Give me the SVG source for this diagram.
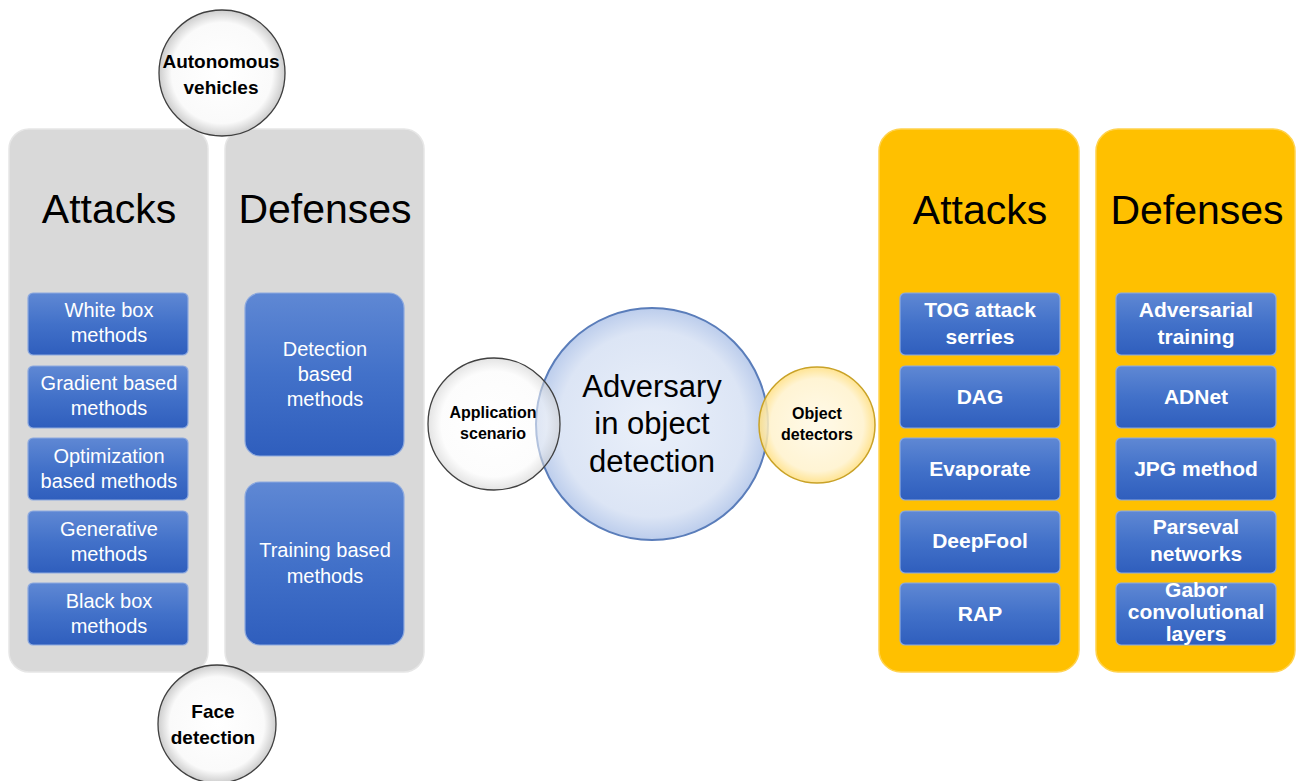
<svg xmlns="http://www.w3.org/2000/svg" width="1296" height="781" viewBox="0 0 1296 781">
<defs>
<linearGradient id="gBox" x1="0" y1="0" x2="0" y2="1">
<stop offset="0" stop-color="#5F88D4"/>
<stop offset="0.5" stop-color="#4271C9"/>
<stop offset="1" stop-color="#2F5EBD"/>
</linearGradient>
<radialGradient id="gWhite" cx="0.5" cy="0.5" r="0.5">
<stop offset="0" stop-color="#FFFFFF"/>
<stop offset="0.8" stop-color="#FAFAFA"/>
<stop offset="1" stop-color="#CDCDCD"/>
</radialGradient>
<radialGradient id="gBlue" cx="0.5" cy="0.5" r="0.5">
<stop offset="0" stop-color="#EAF0FA"/>
<stop offset="0.8" stop-color="#DCE5F5"/>
<stop offset="1" stop-color="#BCCDEC"/>
</radialGradient>
<radialGradient id="gYellow" cx="0.5" cy="0.5" r="0.5">
<stop offset="0" stop-color="#FFF9E6"/>
<stop offset="0.8" stop-color="#FFF2CC"/>
<stop offset="1" stop-color="#FFDF80"/>
</radialGradient>
<style>
.gray{fill:#D9D9D9;stroke:#E6E6E6;stroke-width:1.5}
.gold{fill:#FFC000;stroke:#FFD24D;stroke-width:1.5}
.box{fill:url(#gBox);stroke:#8EAADF;stroke-width:1.2}
.title{font-family:"Liberation Sans",Arial,sans-serif;font-size:41px;fill:#000;text-anchor:middle}
.bt{font-family:"Liberation Sans",Arial,sans-serif;font-size:20px;fill:#FFFFFF;text-anchor:middle}
.bb{font-family:"Liberation Sans",Arial,sans-serif;font-size:21px;font-weight:bold;fill:#FFFFFF;text-anchor:middle}
.ct{font-family:"Liberation Sans",Arial,sans-serif;font-weight:bold;fill:#000;text-anchor:middle}
</style>
</defs>
<rect width="1296" height="781" fill="#FFFFFF"/>

<g id="connectors"/>

<g id="left-attacks-panel">
<rect class="gray" x="9" y="129" width="199" height="543" rx="20"/>
<text class="title" x="109" y="223">Attacks</text>
</g>
<g id="left-defenses-panel">
<rect class="gray" x="225" y="129" width="199" height="543" rx="20"/>
<text class="title" x="325" y="223">Defenses</text>
</g>

<g id="white-box">
<rect class="box" x="28" y="293" width="160" height="62" rx="5"/>
<text class="bt" x="109" y="317">White box</text>
<text class="bt" x="109" y="342">methods</text>
</g>
<g id="gradient-based">
<rect class="box" x="28" y="366" width="160" height="62" rx="5"/>
<text class="bt" x="109" y="390">Gradient based</text>
<text class="bt" x="109" y="415">methods</text>
</g>
<g id="optimization-based">
<rect class="box" x="28" y="438" width="160" height="62" rx="5"/>
<text class="bt" x="109" y="463">Optimization</text>
<text class="bt" x="109" y="488">based methods</text>
</g>
<g id="generative">
<rect class="box" x="28" y="511" width="160" height="62" rx="5"/>
<text class="bt" x="109" y="536">Generative</text>
<text class="bt" x="109" y="561">methods</text>
</g>
<g id="black-box">
<rect class="box" x="28" y="583" width="160" height="62" rx="5"/>
<text class="bt" x="109" y="608">Black box</text>
<text class="bt" x="109" y="633">methods</text>
</g>

<g id="detection-based">
<rect class="box" x="245" y="293" width="159" height="163" rx="15"/>
<text class="bt" x="325" y="356">Detection</text>
<text class="bt" x="325" y="381">based</text>
<text class="bt" x="325" y="406">methods</text>
</g>
<g id="training-based">
<rect class="box" x="245" y="482" width="159" height="163" rx="15"/>
<text class="bt" x="325" y="557">Training based</text>
<text class="bt" x="325" y="583">methods</text>
</g>

<g id="autonomous-vehicles">
<circle cx="222" cy="73" r="63" fill="url(#gWhite)" stroke="#3F3F3F" stroke-width="1.3"/>
<text class="ct" x="221" y="68" font-size="19">Autonomous</text>
<text class="ct" x="221" y="94" font-size="19">vehicles</text>
</g>
<g id="face-detection">
<circle cx="217" cy="724" r="59" fill="url(#gWhite)" stroke="#3F3F3F" stroke-width="1.3"/>
<text class="ct" x="213" y="718" font-size="19">Face</text>
<text class="ct" x="213" y="744" font-size="19">detection</text>
</g>

<g id="adversary">
<circle cx="652" cy="424" r="116" fill="url(#gBlue)" stroke="#5A7DBA" stroke-width="2"/>
<text x="652" y="397" font-family="Liberation Sans, Arial, sans-serif" font-size="31" text-anchor="middle" fill="#000">Adversary</text>
<text x="652" y="434" font-family="Liberation Sans, Arial, sans-serif" font-size="31" text-anchor="middle" fill="#000">in object</text>
<text x="652" y="472" font-family="Liberation Sans, Arial, sans-serif" font-size="31" text-anchor="middle" fill="#000">detection</text>
</g>
<g id="application-scenario">
<circle cx="494" cy="424" r="66" fill="url(#gWhite)" fill-opacity="0.55" stroke="#404040" stroke-width="1.3"/>
<text class="ct" x="493" y="418" font-size="16">Application</text>
<text class="ct" x="493" y="439" font-size="16">scenario</text>
</g>
<g id="object-detectors">
<circle cx="817" cy="425" r="58" fill="url(#gYellow)" fill-opacity="0.85" stroke="#C9A227" stroke-width="1.5"/>
<text class="ct" x="817" y="419" font-size="16">Object</text>
<text class="ct" x="817" y="440" font-size="16">detectors</text>
</g>

<g id="right-attacks-panel">
<rect class="gold" x="879" y="129" width="200" height="543" rx="22"/>
<text class="title" x="980" y="224">Attacks</text>
</g>
<g id="right-defenses-panel">
<rect class="gold" x="1096" y="129" width="199" height="543" rx="22"/>
<text class="title" x="1197" y="224">Defenses</text>
</g>

<g id="tog">
<rect class="box" x="900" y="293" width="160" height="62" rx="5"/>
<text class="bb" x="980" y="317">TOG attack</text>
<text class="bb" x="980" y="344">serries</text>
</g>
<g id="dag">
<rect class="box" x="900" y="366" width="160" height="62" rx="5"/>
<text class="bb" x="980" y="404">DAG</text>
</g>
<g id="evaporate">
<rect class="box" x="900" y="438" width="160" height="62" rx="5"/>
<text class="bb" x="980" y="476">Evaporate</text>
</g>
<g id="deepfool">
<rect class="box" x="900" y="511" width="160" height="62" rx="5"/>
<text class="bb" x="980" y="548">DeepFool</text>
</g>
<g id="rap">
<rect class="box" x="900" y="583" width="160" height="62" rx="5"/>
<text class="bb" x="980" y="621">RAP</text>
</g>

<g id="adversarial-training">
<rect class="box" x="1116" y="293" width="160" height="62" rx="5"/>
<text class="bb" x="1196" y="317">Adversarial</text>
<text class="bb" x="1196" y="344">training</text>
</g>
<g id="adnet">
<rect class="box" x="1116" y="366" width="160" height="62" rx="5"/>
<text class="bb" x="1196" y="404">ADNet</text>
</g>
<g id="jpg-method">
<rect class="box" x="1116" y="438" width="160" height="62" rx="5"/>
<text class="bb" x="1196" y="476">JPG method</text>
</g>
<g id="parseval">
<rect class="box" x="1116" y="511" width="160" height="62" rx="5"/>
<text class="bb" x="1196" y="534">Parseval</text>
<text class="bb" x="1196" y="561">networks</text>
</g>
<g id="gabor">
<rect class="box" x="1116" y="583" width="160" height="62" rx="5"/>
<text class="bb" x="1196" y="597" font-size="17">Gabor</text>
<text class="bb" x="1196" y="619" font-size="17">convolutional</text>
<text class="bb" x="1196" y="641" font-size="17">layers</text>
</g>
</svg>
